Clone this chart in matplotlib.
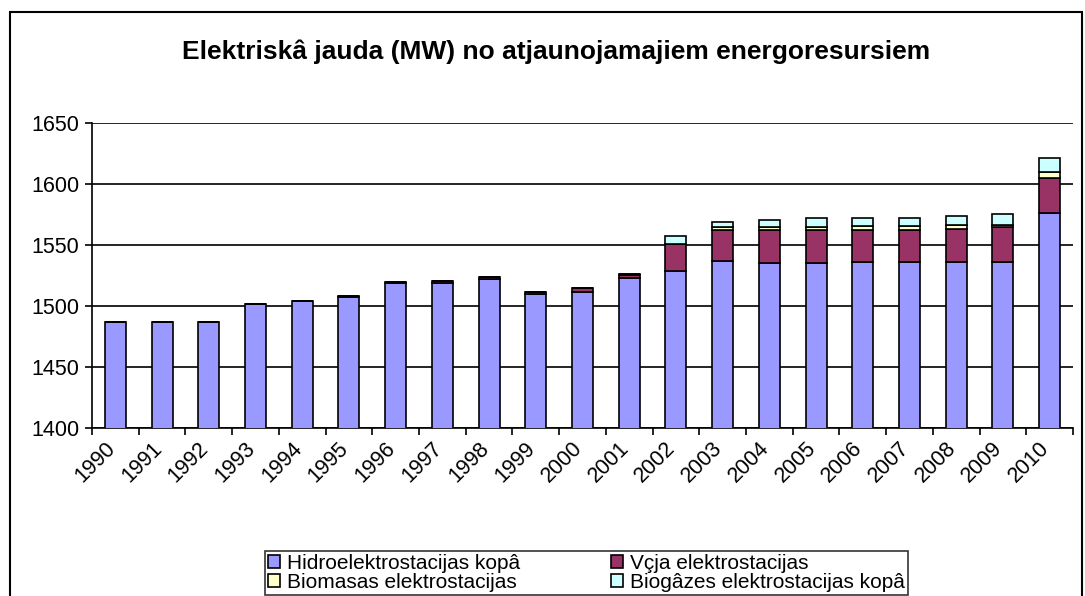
import matplotlib
matplotlib.use("Agg")
import matplotlib.pyplot as plt
import matplotlib.transforms as mtransforms
from matplotlib.patches import Rectangle
from matplotlib.ticker import FixedLocator, MultipleLocator
import numpy as np

plt.rcParams['font.family'] = ['Liberation Sans', 'DejaVu Sans']

years = [str(y) for y in range(1990, 2011)]
hydro = [1487, 1487, 1487, 1502, 1504, 1507, 1518.5, 1519, 1522, 1510, 1511.5,
         1523, 1529, 1537, 1535.5, 1535.5, 1536, 1536, 1536, 1536, 1576]
wind = [0, 0, 0, 0, 0, 1, 1.5, 1.5, 1.5, 1.5, 3,
        2.5, 21.5, 25, 26.5, 26.5, 26.5, 26.5, 27.5, 29, 29]
biomass = [0, 0, 0, 0, 0, 0, 0, 0, 0, 0, 0,
           0.5, 0.5, 2.5, 2.5, 3, 3, 3, 2.5, 1.5, 5]
biogas = [0, 0, 0, 0, 0, 0, 0, 0, 0, 0, 0,
          0.5, 6, 4.5, 6, 7, 6.5, 6.5, 7.5, 9, 11.5]

labels = ["Hidroelektrostacijas kopâ", "Vçja elektrostacijas",
          "Biomasas elektrostacijas", "Biogâzes elektrostacijas kopâ"]
colors = ["#9999FF", "#993366", "#FFFFCC", "#CCFFFF"]

W, H = 1085, 596
fig = plt.figure(figsize=(W / 100, H / 100), dpi=100)
ax = fig.add_axes([92 / W, 1 - 428 / H, (1073 - 92) / W, (428 - 123) / H])

x = np.arange(len(years))
series = [hydro, wind, biomass, biogas]
bottom = np.zeros(len(years))
handles = []
for vals, col, lab in zip(series, colors, labels):
    vals = np.array(vals, dtype=float)
    b = ax.bar(x, vals, width=0.45, bottom=bottom, color=col,
               edgecolor="black", linewidth=1.2, label=lab, zorder=3)
    handles.append(b)
    bottom = bottom + vals

ax.set_ylim(1400, 1650)
ax.set_xlim(-0.5, len(years) - 0.5)
ax.yaxis.set_major_locator(MultipleLocator(50))
ax.grid(axis="y", color="black", linewidth=1.2, zorder=0)

ax.set_xticks(x)
ax.set_xticklabels(years, rotation=45, ha="right", fontsize=15.5)
ax.tick_params(axis="x", which="major", length=0, pad=7)
ax.xaxis.set_minor_locator(FixedLocator(np.arange(-0.5, len(years), 1.0)))
ax.tick_params(axis="x", which="minor", length=5, width=1.2, direction="out")
ax.tick_params(axis="y", length=5, width=1.2, direction="out", labelsize=15.5, pad=4)

# nudge the slanted year labels a little to the right
offset = mtransforms.ScaledTranslation(4 / 100, 0, fig.dpi_scale_trans)
for lbl in ax.get_xticklabels():
    lbl.set_transform(lbl.get_transform() + offset)

for side in ["top", "right"]:
    ax.spines[side].set_visible(False)
for side in ["left", "bottom"]:
    ax.spines[side].set_linewidth(1.2)

fig.text(556 / W, 1 - 52 / H, "Elektriskâ jauda (MW) no atjaunojamajiem energoresursiem",
         ha="center", va="center", fontsize=19, fontweight="bold")

order = [0, 2, 1, 3]
leg = fig.legend([handles[i] for i in order], [labels[i] for i in order],
                 ncol=2, loc="lower left",
                 bbox_to_anchor=(265 / W, 1 - 595 / H, (908 - 265) / W, 0.0),
                 mode="expand", fontsize=15, frameon=True, fancybox=False,
                 borderpad=0.15, handlelength=0.55, handleheight=0.55,
                 handletextpad=0.35, columnspacing=0.8, labelspacing=0.0,
                 borderaxespad=0)
leg.get_frame().set_edgecolor("black")
leg.get_frame().set_linewidth(1.2)

# outer chart border
fig.patches.append(Rectangle((10 / W, -0.05), (1082 - 10) / W, 1.05 - 12 / H,
                             transform=fig.transFigure, fill=False,
                             edgecolor="black", linewidth=1.5, clip_on=False))

fig.savefig("out.png", dpi=100)
